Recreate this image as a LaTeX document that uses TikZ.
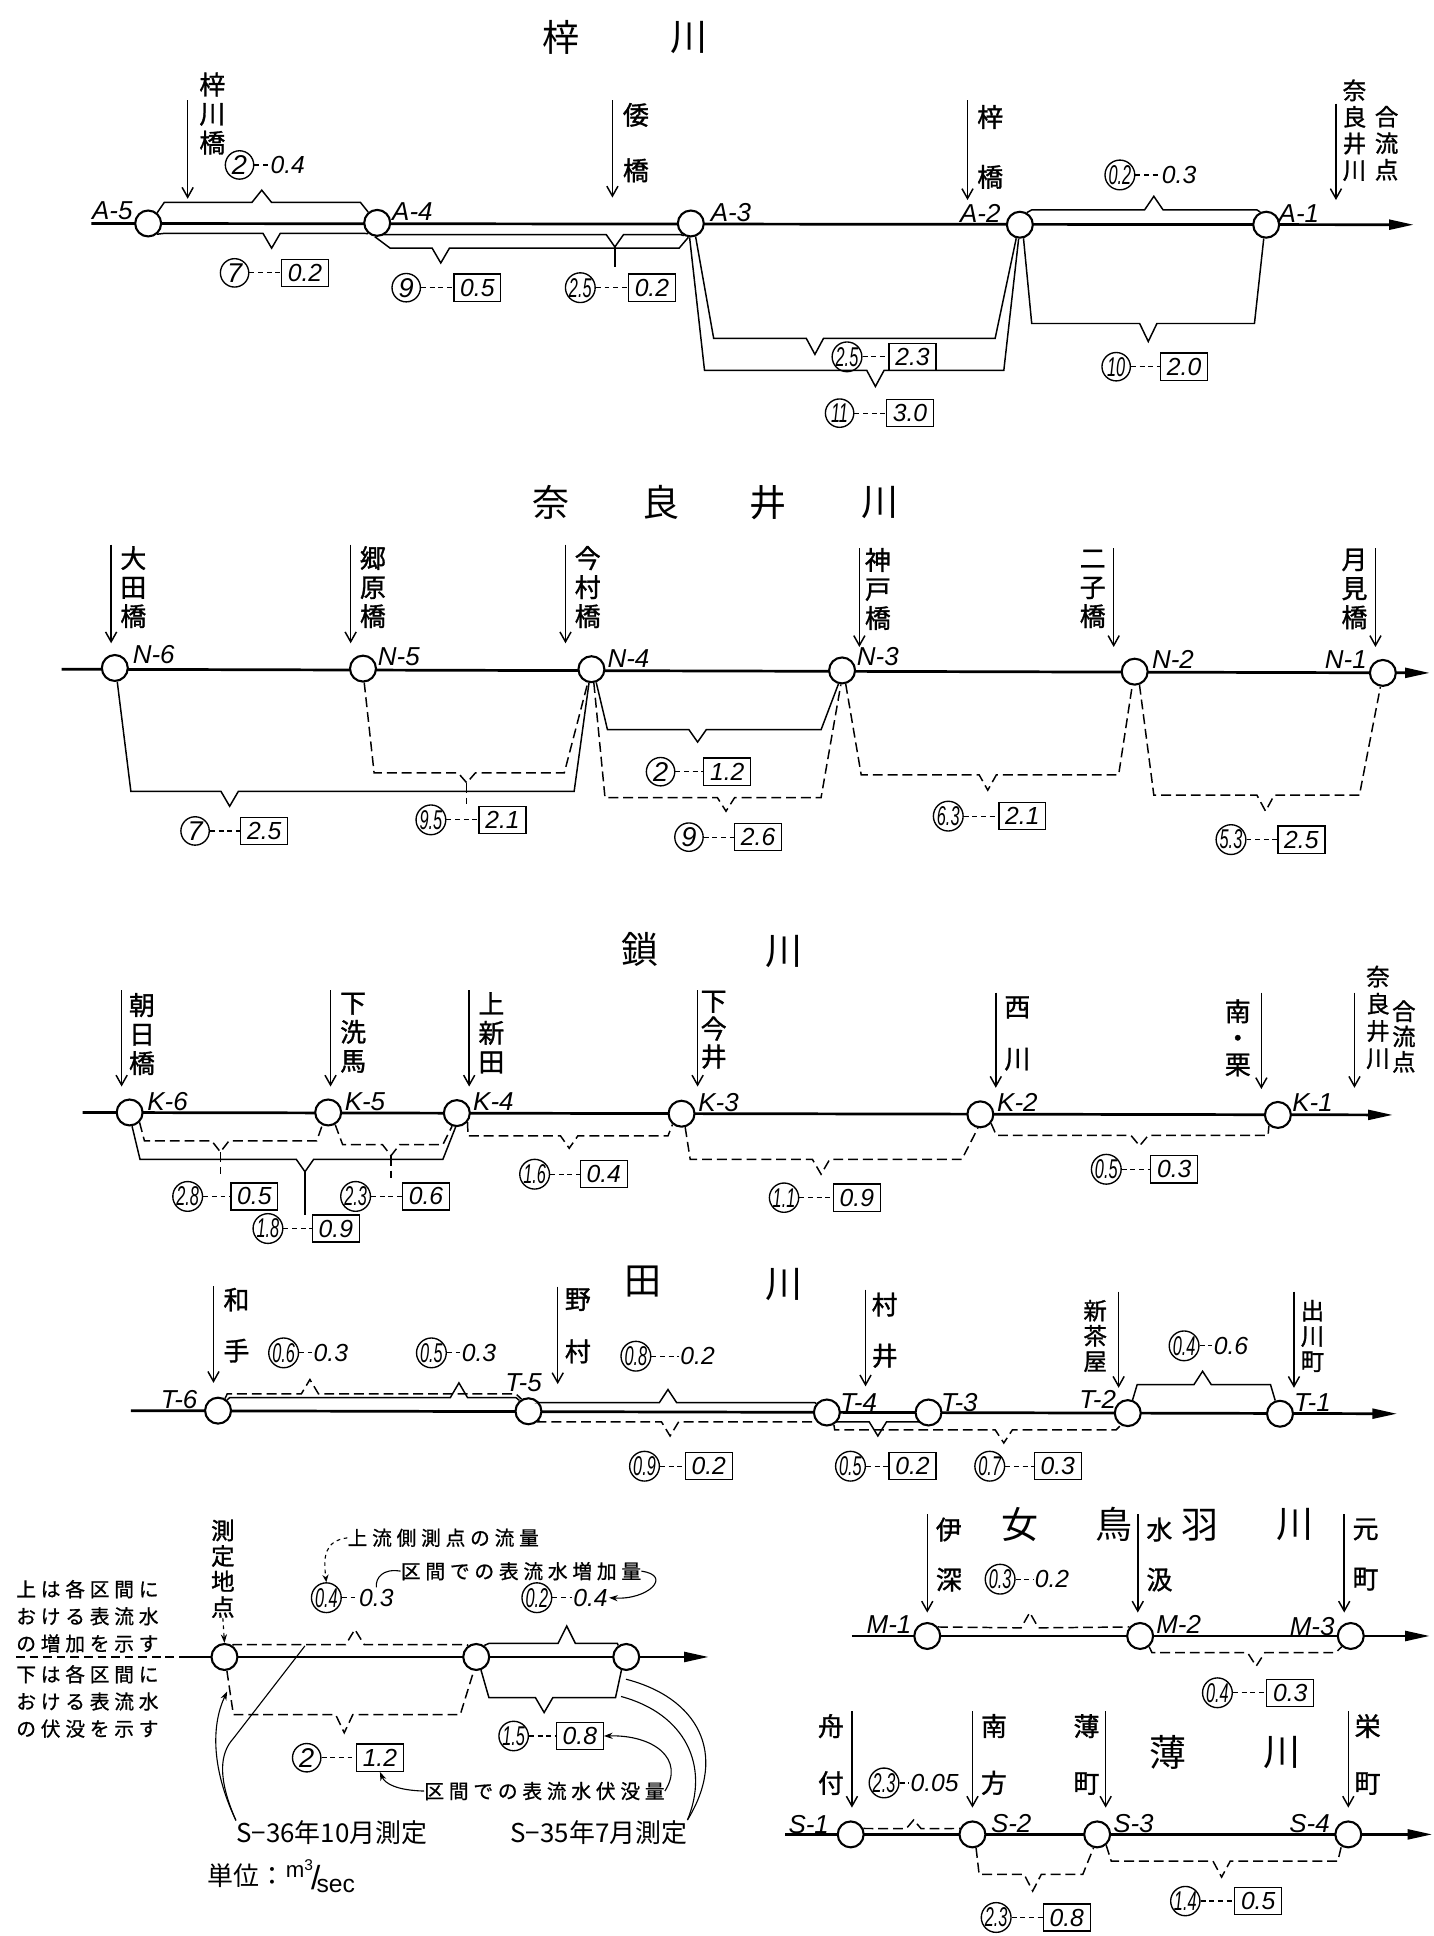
\documentclass[tikz,border=0pt]{standalone}
\usepackage{fontspec}
\usepackage{graphicx}
\setmainfont{Liberation Sans}
\newfontfamily\jp{Noto Sans CJK JP}
\newfontfamily\jpb{Noto Sans CJK JP}[FakeBold=1.2]
\newfontfamily\jpsp{Noto Sans CJK JP}[LetterSpace=24,FakeBold=0.8]
\usetikzlibrary{arrows.meta}
\newcommand{\cnum}[1]{\scalebox{0.6}[1]{#1}}
\tikzset{
  river/.style={line width=2.2pt,-{Triangle[length=20pt,width=8pt]}},
  divider/.style={line width=1.6pt,dash pattern=on 7pt off 4pt},
  stn/.style={circle,draw,line width=1.7pt,fill=white,minimum size=21pt,inner sep=0pt},
  stnlbl/.style={font=\fontsize{21}{21}\selectfont\itshape,inner sep=0pt},
  bridge/.style={line width=1.2pt,-{Straight Barb[length=8pt,width=9pt]}},
  vtext/.style={font=\jpb\fontsize{21}{#1}\selectfont,align=center,inner sep=0pt},
  vtext/.default=23.5,
  vtight/.style={font=\jpb\fontsize{19}{#1}\selectfont,align=center,inner sep=0pt},
  rtitle/.style={font=\jp\fontsize{30}{30}\selectfont,inner sep=0pt},
  brk/.style={line width=1.2pt},
  brkd/.style={brk,dash pattern=on 8pt off 4pt},
  flow/.style={circle,draw,line width=1.1pt,minimum size=23pt,inner sep=0pt,
    font=\fontsize{22}{22}\selectfont\itshape},
  loss/.style={draw,line width=1.1pt,minimum width=38pt,minimum height=22pt,inner sep=0pt,
    font=\fontsize{20}{20}\selectfont\itshape},
  gain/.style={inner sep=1pt,font=\fontsize{20}{20}\selectfont\itshape},
  link/.style={line width=1pt,dash pattern=on 4pt off 3pt},
  note/.style={font=\jpsp\fontsize{16}{22}\selectfont,inner sep=0pt,align=left},
  mdate/.style={font=\jp\fontsize{21}{21}\selectfont,inner sep=0pt},
  lead/.style={line width=0.9pt},
  leadarr/.style={lead,-{Stealth[length=7pt,width=5pt]}},
}
\begin{document}
\begin{tikzpicture}[x=1pt,y=-1pt]
\useasboundingbox (0,0) rectangle (1161,1568);

% ---- 梓川
\node[rtitle] (tA1) at (454,30) {梓};
\node[rtitle] (tA2) at (558,30) {川};
\draw[river] (74,181) -- (1145,182);
\node[stn] (A5) at (120,181) {};
\node[stn] (A4) at (305.5,180.5) {};
\node[stn] (A3) at (559.5,181) {};
\node[stn] (A2) at (826,182) {};
\node[stn] (A1) at (1025.5,182) {};
\node[stnlbl] (lbA5) at (91,171) {A-5};
\node[stnlbl] (lbA4) at (334,171) {A-4};
\node[stnlbl] (lbA3) at (592,172) {A-3};
\node[stnlbl] (lbA2) at (794,173) {A-2};
\node[stnlbl] (lbA1) at (1052,173) {A-1};

\draw[bridge] (152,81) -- (152,161);
\node[vtext] (bA5) at (172,92) {梓\\川\\橋};
\draw[bridge] (496,81) -- (496,160);
\node[vtext=45] (bA3) at (515,115.5) {倭\\橋};
\draw[bridge] (783.6,81) -- (783.6,162);
\node[vtext=48.5] (bA2) at (802,119) {梓\\橋};
\draw[bridge] (1082,84) -- (1082,162);
\node[vtight=21.5] (bA1a) at (1097,105.5) {奈\\良\\井\\川};
\node[vtight=21.5] (bA1b) at (1123,116) {合\\流\\点};

\draw[brk] (A5.50) -- (133,164) -- (204,164) -- (212,154) -- (220,164) -- (292,164) -- (A4.130);
\draw[brk] (A5.-50) -- (133,189) -- (213,189) -- (220,201) -- (227,189) -- (293,189) -- (A4.-130);
\draw[brk] (A4.-60) -- (311,190) -- (491,190) -- (498,200) -- (505,190) -- (551,190) -- (A3.-120);
\draw[brk] (498,200) -- (498,216);
\draw[brk] (A4.-100) -- (316,201) -- (350,201) -- (357,213) -- (364,201) -- (550,201) -- (A3.-100);
\draw[brk] (A3.-70) -- (578,274) -- (653,274) -- (660,287) -- (667,274) -- (806,274) -- (A2.-105);
\draw[brk] (A3.-95) -- (570.6,300) -- (702,300) -- (709,313) -- (716,300) -- (813,300) -- (A2.-95);
\draw[brk] (A2.-75) -- (835.6,262) -- (923,262) -- (930,276.6) -- (937,262) -- (1016,262) -- (A1.-100);
\draw[brk] (A2.60) -- (835.6,170) -- (927,170) -- (934.5,159) -- (942,170) -- (1018,170) -- (A1.115);

\node[flow] (fA1) at (194,133.6) {2};
\node[gain] (gA1) at (233,133.6) {0.4};
\draw[link] (fA1) -- (gA1);
\node[flow] (fA2) at (190,221) {7};
\node[loss] (lA2) at (247,221) {0.2};
\draw[link] (fA2) -- (lA2);
\node[flow] (fA3) at (329,233) {9};
\node[loss] (lA3) at (386.6,233) {0.5};
\draw[link] (fA3) -- (lA3);
\node[flow] (fA4) at (470,233) {\cnum{2.5}};
\node[loss] (lA4) at (528,233) {0.2};
\draw[link] (fA4) -- (lA4);
\node[flow] (fA5) at (686,289) {\cnum{2.5}};
\node[loss] (lA5) at (739,289) {2.3};
\draw[link] (fA5) -- (lA5);
\node[flow] (fA6) at (680,334.6) {\cnum{11}};
\node[loss] (lA6) at (737,334.6) {3.0};
\draw[link] (fA6) -- (lA6);
\node[flow] (fA7) at (904,297) {\cnum{10}};
\node[loss] (lA7) at (959,297) {2.0};
\draw[link] (fA7) -- (lA7);
\node[flow] (fA8) at (907,141.7) {\cnum{0.2}};
\node[gain] (gA8) at (955,141.7) {0.3};
\draw[link] (fA8) -- (gA8);

% ---- 奈良井川
\node[rtitle] (tN1) at (446,407) {奈};
\node[rtitle] (tN2) at (535,407) {良};
\node[rtitle] (tN3) at (622,407) {井};
\node[rtitle] (tN4) at (713,407) {川};
\draw[river] (50,542) -- (1158,545);
\node[stn] (N6) at (93,541) {};
\node[stn] (N5) at (294,541.5) {};
\node[stn] (N4) at (479,542) {};
\node[stn] (N3) at (682,543) {};
\node[stn] (N2) at (919,544) {};
\node[stn] (N1) at (1120,545) {};
\node[stnlbl] (lbN6) at (124.5,530) {N-6};
\node[stnlbl] (lbN5) at (323,532) {N-5};
\node[stnlbl] (lbN4) at (509,533) {N-4};
\node[stnlbl] (lbN3) at (711,532) {N-3};
\node[stnlbl] (lbN2) at (950,534) {N-2};
\node[stnlbl] (lbN1) at (1090,534) {N-1};

\draw[bridge] (90,441) -- (90,521);
\node[vtext] (bN6) at (108,475.5) {大\\田\\橋};
\draw[bridge] (284,441) -- (284,521);
\node[vtext] (bN5) at (302,475.5) {郷\\原\\橋};
\draw[bridge] (458,441) -- (458,521);
\node[vtext] (bN4) at (476,475.5) {今\\村\\橋};
\draw[bridge] (696,444) -- (696,524);
\node[vtext] (bN3) at (711,477) {神\\戸\\橋};
\draw[bridge] (902,444) -- (902,524);
\node[vtext] (bN2) at (885,477) {二\\子\\橋};
\draw[bridge] (1114,444) -- (1114,524);
\node[vtext] (bN1) at (1097,477) {月\\見\\橋};

\draw[brk] (N6.-80) -- (106,641) -- (179,641) -- (186,653) -- (193,641) -- (465,641) -- (N4.-100);
\draw[brkd] (N5.-85) -- (303,626) -- (371,626) -- (378,634) -- (385,626) -- (457,626) -- (N4.-105);
\draw[brkd] (378,634) -- (378,651);
\draw[brk] (N4.-70) -- (492,591) -- (558,591) -- (565,601) -- (572,591) -- (665,591) -- (N3.-105);
\draw[brkd] (N4.-80) -- (490,646) -- (581,646) -- (588,657) -- (595,646) -- (665,646) -- (N3.-95);
\draw[brkd] (N3.-75) -- (697.5,627.5) -- (793,627.5) -- (800,640) -- (807,627.5) -- (906,627.5) -- (N2.-100);
\draw[brkd] (N2.-70) -- (934.5,644) -- (1018,644) -- (1025,657) -- (1032,644) -- (1101,644) -- (N1.-100);

\node[flow] (fN1) at (158,673) {7};
\node[loss] (lN1) at (214,673) {2.5};
\draw[link] (fN1) -- (lN1);
\node[flow] (fN2) at (349,664) {\cnum{9.5}};
\node[loss] (lN2) at (407,664) {2.1};
\draw[link] (fN2) -- (lN2);
\node[flow] (fN3) at (535,625) {2};
\node[loss] (lN3) at (589,625) {1.2};
\draw[link] (fN3) -- (lN3);
\node[flow] (fN4) at (558,678) {9};
\node[loss] (lN4) at (614,678) {2.6};
\draw[link] (fN4) -- (lN4);
\node[flow] (fN5) at (768,661) {\cnum{6.3}};
\node[loss] (lN5) at (828,661) {2.1};
\draw[link] (fN5) -- (lN5);
\node[flow] (fN6) at (997,680) {\cnum{5.3}};
\node[loss] (lN6) at (1054,680) {2.5};
\draw[link] (fN6) -- (lN6);

% ---- 鎖川
\node[rtitle] (tK1) at (518.6,769) {鎖};
\node[rtitle] (tK2) at (635,771) {川};
\draw[river] (67,901) -- (1128,903);
\node[stn] (K6) at (105,901) {};
\node[stn] (K5) at (265.8,901) {};
\node[stn] (K4) at (370,901.5) {};
\node[stn] (K3) at (552,902) {};
\node[stn] (K2) at (794,902.5) {};
\node[stn] (K1) at (1035,903) {};
\node[stnlbl] (lbK6) at (135.7,892) {K-6};
\node[stnlbl] (lbK5) at (295.6,892) {K-5};
\node[stnlbl] (lbK4) at (399.6,892) {K-4};
\node[stnlbl] (lbK3) at (582,893) {K-3};
\node[stnlbl] (lbK2) at (824,893) {K-2};
\node[stnlbl] (lbK1) at (1063,893) {K-1};

\draw[bridge] (98.5,802) -- (98.5,880);
\node[vtext] (bK6) at (115,837.5) {朝\\日\\橋};
\draw[bridge] (267.7,802) -- (267.7,880);
\node[vtext] (bK5) at (286,836.5) {下\\洗\\馬};
\draw[bridge] (380,802) -- (380,880);
\node[vtext] (bK4) at (398,836.5) {上\\新\\田};
\draw[bridge] (565,802) -- (565,880);
\node[vtext=22.5] (bK3) at (578,834) {下\\今\\井};
\draw[bridge] (806.5,804) -- (806.5,881);
\node[vtext=42] (bK2) at (824,837) {西\\川};
\draw[bridge] (1021.6,804) -- (1021.6,882);
\node[vtext=21.5] (bK1) at (1002.5,840.5) {南\\・\\栗};
\draw[bridge] (1097,804) -- (1097,881);
\node[vtight=22] (bK0a) at (1116,824) {奈\\良\\井\\川};
\node[vtight=20.5] (bK0b) at (1137,839.5) {合\\流\\点};

\draw[brkd] (K6.-45) -- (117,924) -- (171.5,924) -- (178.5,933) -- (185.5,924) -- (256.5,924) -- (K5.-115);
\draw[brkd] (178.5,933) -- (178.5,951);
\draw[brkd] (K5.-60) -- (277.5,927) -- (309.7,927) -- (316.7,936) -- (323.7,927) -- (358.7,927) -- (K4.-110);
\draw[brkd] (316.7,936) -- (316.7,954);
\draw[brk] (K6.-80) -- (113.4,939) -- (240,939) -- (247,949) -- (254,939) -- (358.7,939) -- (K4.-95);
\draw[brk] (247,949) -- (247,984);
\draw[brkd] (K4.-40) -- (379,920) -- (454,920) -- (461,930) -- (468,920) -- (541,920) -- (K3.-130);
\draw[brkd] (K3.-75) -- (559,939) -- (658,939) -- (665,951) -- (672,939) -- (779,939) -- (K2.-100);
\draw[brkd] (K2.-40) -- (807,919.6) -- (916,919.6) -- (923,928) -- (930,919.6) -- (1027,919.6) -- (K1.-130);

\node[flow] (fK1) at (152,969) {\cnum{2.8}};
\node[loss] (lK1) at (206,969) {0.5};
\draw[link] (fK1) -- (lK1);
\node[flow] (fK2) at (288,969) {\cnum{2.3}};
\node[loss] (lK2) at (345,969) {0.6};
\draw[link] (fK2) -- (lK2);
\node[flow] (fK3) at (217,995) {\cnum{1.8}};
\node[loss] (lK3) at (272,995) {0.9};
\draw[link] (fK3) -- (lK3);
\node[flow] (fK4) at (433,951) {\cnum{1.6}};
\node[loss] (lK4) at (489,951) {0.4};
\draw[link] (fK4) -- (lK4);
\node[flow] (fK5) at (635,970) {\cnum{1.1}};
\node[loss] (lK5) at (694,970) {0.9};
\draw[link] (fK5) -- (lK5);
\node[flow] (fK6) at (896,947) {\cnum{0.5}};
\node[loss] (lK6) at (951,947) {0.3};
\draw[link] (fK6) -- (lK6);

% ---- 田川
\node[rtitle] (tT1) at (520.4,1038) {田};
\node[rtitle] (tT2) at (635,1040) {川};
\draw[river] (106,1142.5) -- (1131.5,1145);
\node[stn] (T6) at (176.6,1142.5) {};
\node[stn] (T5) at (428,1143) {};
\node[stn] (T4) at (669.7,1144) {};
\node[stn] (T3) at (752,1144) {};
\node[stn] (T2) at (913.4,1144.5) {};
\node[stn] (T1) at (1036.7,1145) {};
\node[stnlbl] (lbT6) at (145,1133.5) {T-6};
\node[stnlbl] (lbT5) at (424,1120) {T-5};
\node[stnlbl] (lbT4) at (695.5,1136) {T-4};
\node[stnlbl] (lbT3) at (777,1136) {T-3};
\node[stnlbl] (lbT2) at (889,1133.5) {T-2};
\node[stnlbl] (lbT1) at (1063,1136) {T-1};

\draw[bridge] (172.9,1041.7) -- (172.9,1120);
\node[vtext=41.4] (bT6) at (191.5,1073.3) {和\\手};
\draw[bridge] (451.7,1042) -- (451.7,1121);
\node[vtext=42.4] (bT5) at (468,1073.8) {野\\村};
\draw[bridge] (701,1044.5) -- (701,1122.8);
\node[vtext=41.4] (bT4) at (716.5,1077.3) {村\\井};
\draw[bridge] (906,1046) -- (906,1124);
\node[vtight=20.5] (bT2) at (887,1082) {新\\茶\\屋};
\draw[bridge] (1048,1046) -- (1048,1124);
\node[vtight=20.5] (bT1) at (1063,1082) {出\\川\\町};

\draw[brkd] (T6.60) -- (184,1129) -- (244,1129) -- (251,1117.3) -- (258,1129) -- (418,1129) -- (T5.120);
\draw[brk] (T6.50) -- (186,1132) -- (364.7,1132) -- (371.7,1120) -- (378.7,1132) -- (418,1132) -- (T5.130);
\draw[brk] (T5.40) -- (436,1136) -- (534,1136) -- (541,1125.4) -- (548,1136) -- (660,1136) -- (T4.140);
\draw[brk] (T2.70) -- (921,1121.4) -- (967,1121.4) -- (974,1110.6) -- (981,1121.4) -- (1029,1121.4) -- (T1.110);
\draw[brkd] (T5.-40) -- (436,1151.5) -- (535.7,1151.5) -- (542.7,1163) -- (549.7,1151.5) -- (660,1151.5) -- (T4.-140);
\draw[brk] (T4.-40) -- (678,1151.6) -- (704,1151.6) -- (711,1163) -- (718,1151.6) -- (744,1151.6) -- (T3.-140);
\draw[brkd] (T4.-60) -- (676,1158) -- (806,1158) -- (813,1168.7) -- (820,1158) -- (904,1158) -- (T2.-120);

\node[flow] (fT1) at (229.7,1095.7) {\cnum{0.6}};
\node[gain] (gT1) at (268,1095.7) {0.3};
\draw[link] (fT1) -- (gT1);
\node[flow] (fT2) at (349.4,1095.7) {\cnum{0.5}};
\node[gain] (gT2) at (388,1095.7) {0.3};
\draw[link] (fT2) -- (gT2);
\node[flow] (fT3) at (515,1098.4) {\cnum{0.8}};
\node[gain] (gT3) at (565,1098.4) {0.2};
\draw[link] (fT3) -- (gT3);
\node[flow] (fT4) at (959,1090) {\cnum{0.4}};
\node[gain] (gT4) at (997,1090) {0.6};
\draw[link] (fT4) -- (gT4);
\node[flow] (fT5) at (522,1187.5) {\cnum{0.9}};
\node[loss] (lT5) at (574,1187.5) {0.2};
\draw[link] (fT5) -- (lT5);
\node[flow] (fT6) at (688.8,1187.5) {\cnum{0.5}};
\node[loss] (lT6) at (739,1187.5) {0.2};
\draw[link] (fT6) -- (lT6);
\node[flow] (fT7) at (801.6,1187.5) {\cnum{0.7}};
\node[loss] (lT7) at (856.7,1187.5) {0.3};
\draw[link] (fT7) -- (lT7);

% ---- 凡例
\node[note,anchor=west] (nL1) at (13,1309) {上は各区間に\\おける表流水\\の増加を示す};
\node[note,anchor=west] (nL2) at (13,1378) {下は各区間に\\おける表流水\\の伏没を示す};
\draw[divider] (13,1342) -- (145,1342);
\draw[river] (145,1342) -- (574,1342);
\node[stn] (C1) at (181.8,1342) {};
\node[stn] (C2) at (385.7,1342) {};
\node[stn] (C3) at (507.2,1342) {};
\node[vtight=20.7] (lgpt) at (180.5,1270.5) {測\\定\\地\\点};
\draw[leadarr,dashed] (lgpt.south) -- (C1.north);

\draw[brkd] (C1.55) -- (189,1332) -- (280,1332) -- (287.4,1319.7) -- (295,1332) -- (378,1332) -- (C2.125);
\draw[brk] (C2.55) -- (396,1331) -- (452,1331) -- (459,1317) -- (466,1331) -- (500,1331) -- (C3.125);
\draw[brkd] (C1.-80) -- (189,1388.6) -- (271.8,1388.6) -- (278.8,1403.4) -- (285.8,1388.6) -- (372.8,1388.6) -- (C2.-100);
\draw[brk] (C2.-70) -- (396,1375) -- (433.7,1375) -- (440.7,1387) -- (447.7,1375) -- (498.5,1375) -- (C3.-110);

\node[flow] (fL1) at (264.3,1294) {\cnum{0.4}};
\node[gain] (gL1) at (304.8,1294) {0.3};
\draw[link] (fL1) -- (gL1);
\node[flow] (fL2) at (434.8,1294) {\cnum{0.2}};
\node[gain] (gL2) at (478.2,1294) {0.4};
\draw[link] (fL2) -- (gL2);
\node[flow] (fL3) at (248.4,1423.6) {2};
\node[loss] (lL3) at (307.7,1423.6) {1.2};
\draw[link] (fL3) -- (lL3);
\node[flow] (fL4) at (416,1406) {\cnum{1.5}};
\node[loss] (lL4) at (469.6,1406) {0.8};
\draw[link] (fL4) -- (lL4);

\node[note] (nUp) at (359,1245.5) {上流側測点の流量};
\node[note] (nGain) at (422,1272.5) {区間での表流水増加量};
\node[note] (nLoss) at (441,1450.6) {区間での表流水伏没量};
\node[mdate] (nS36) at (268.7,1484.4) {S−36年10月測定};
\node[mdate] (nS35) at (485,1484) {S−35年7月測定};
\node[mdate] (unit) at (228,1519.5) {単位：\raisebox{6pt}{\rmfamily\fontsize{18}{18}\selectfont m\textsuperscript{3}}\kern-2pt\raisebox{-3pt}{\rmfamily\fontsize{27}{27}\selectfont /}\kern-3pt\raisebox{-6pt}{\rmfamily\fontsize{20}{20}\selectfont sec}};

\draw[lead,dashed,-{Stealth[length=6pt,width=5pt]}] (nUp.west) .. controls (262,1248) and (262,1262) .. (fL1.north);
\draw[lead] (nGain.west) .. controls (310,1270) and (304,1278) .. (gL1.north);
\draw[leadarr] (nGain.east) .. controls (545,1276) and (525,1296) .. (gL2.east);
\draw[leadarr] (nLoss.west) .. controls (322,1450) and (312,1445) .. (lL3.south);
\draw[leadarr] (nLoss.east) .. controls (555,1425) and (530,1405) .. (lL4.east);

\coordinate (pS36a) at (184,1370);
\coordinate (pS36b) at (247,1333);
\coordinate (pS35a) at (507,1360);
\coordinate (pS35b) at (503,1374);
\draw[leadarr] (nS36.north west) .. controls (170,1430) and (172,1395) .. (pS36a);
\draw[lead] (nS36.north west) .. controls (176,1440) and (178,1420) .. (189,1408) -- (pS36b);
\draw[lead] (nS35.north east) .. controls (590,1420) and (565,1375) .. (pS35a);
\draw[lead] (nS35.north east) .. controls (575,1430) and (555,1388) .. (pS35b);

% ---- 女鳥羽川
\node[rtitle] (tM1) at (826,1235) {女};
\node[rtitle] (tM2) at (902.5,1235) {鳥};
\node[rtitle] (tM3) at (972,1235) {羽};
\node[rtitle] (tM4) at (1048.5,1235) {川};
\draw[river] (690,1325) -- (1158,1325);
\node[stn] (M1) at (751,1325) {};
\node[stn] (M2) at (923.4,1325) {};
\node[stn] (M3) at (1094,1325) {};
\node[stnlbl] (lbM1) at (720,1316) {M-1};
\node[stnlbl] (lbM2) at (954.6,1316) {M-2};
\node[stnlbl] (lbM3) at (1062.7,1317) {M-3};

\draw[bridge] (751,1226.6) -- (751,1306);
\node[vtext=40.5] (bM1) at (768.5,1259) {伊\\深};
\draw[bridge] (921.5,1226.6) -- (921.5,1306);
\node[vtext=40.5] (bM2) at (939,1259) {水\\汲};
\draw[bridge] (1088.7,1226.6) -- (1088.7,1306);
\node[vtext=40.5] (bM3) at (1106,1259) {元\\町};

\draw[brkd] (M1.40) -- (827,1318.4) -- (834,1306) -- (841,1318.4) -- (M2.140);
\draw[brkd] (M2.-50) -- (933,1338.5) -- (1010.4,1338.5) -- (1017.4,1349.4) -- (1024.4,1338.5) -- (1081.7,1338.5) -- (M3.-130);
\node[flow] (fM1) at (810,1279) {\cnum{0.3}};
\node[gain] (gM1) at (852,1279) {0.2};
\draw[link] (fM1) -- (gM1);
\node[flow] (fM2) at (986,1371) {\cnum{0.4}};
\node[loss] (lM2) at (1045,1371) {0.3};
\draw[link] (fM2) -- (lM2);

% ---- 薄川
\node[rtitle] (tS1) at (946,1419.6) {薄};
\node[rtitle] (tS2) at (1038.3,1419.6) {川};
\draw[river] (636,1485.7) -- (1160,1485.7);
\node[stn] (S1) at (689,1485.7) {};
\node[stn] (S2) at (787.6,1485.7) {};
\node[stn] (S3) at (888.6,1485.7) {};
\node[stn] (S4) at (1092,1485.7) {};
\node[stnlbl] (lbS1) at (655,1478) {S-1};
\node[stnlbl] (lbS2) at (819,1477) {S-2};
\node[stnlbl] (lbS3) at (918,1477) {S-3};
\node[stnlbl] (lbS4) at (1060.6,1477) {S-4};

\draw[bridge] (690,1386) -- (690,1464);
\node[vtext=46] (bS1) at (673,1421) {舟\\付};
\draw[bridge] (787.6,1386) -- (787.6,1464);
\node[vtext=46] (bS2) at (805,1421) {南\\方};
\draw[bridge] (895.5,1386) -- (895.5,1464);
\node[vtext=46] (bS3) at (880,1421) {薄\\町};
\draw[bridge] (1092,1386) -- (1092,1464);
\node[vtext=46] (bS4) at (1107.7,1421) {栄\\町};

\draw[brkd] (S1.25) -- (734,1481) -- (740,1474) -- (746,1481) -- (S2.155);
\draw[brkd] (S2.-75) -- (793,1518) -- (829.4,1518) -- (836.4,1531.6) -- (843.4,1518) -- (877,1518) -- (S3.-105);
\draw[brkd] (S3.-50) -- (900,1507.3) -- (982.4,1507.3) -- (989.4,1520.3) -- (996.4,1507.3) -- (1083.5,1507.3) -- (S4.-120);
\node[flow] (fS1) at (716,1444) {\cnum{2.3}};
\node[gain] (gS1) at (757,1444) {0.05};
\draw[link] (fS1) -- (gS1);
\node[flow] (fS2) at (806.8,1553) {\cnum{2.3}};
\node[loss] (lS2) at (864,1553) {0.8};
\draw[link] (fS2) -- (lS2);
\node[flow] (fS3) at (960,1539.7) {\cnum{1.4}};
\node[loss] (lS3) at (1019,1539.7) {0.5};
\draw[link] (fS3) -- (lS3);
\end{tikzpicture}
\end{document}
